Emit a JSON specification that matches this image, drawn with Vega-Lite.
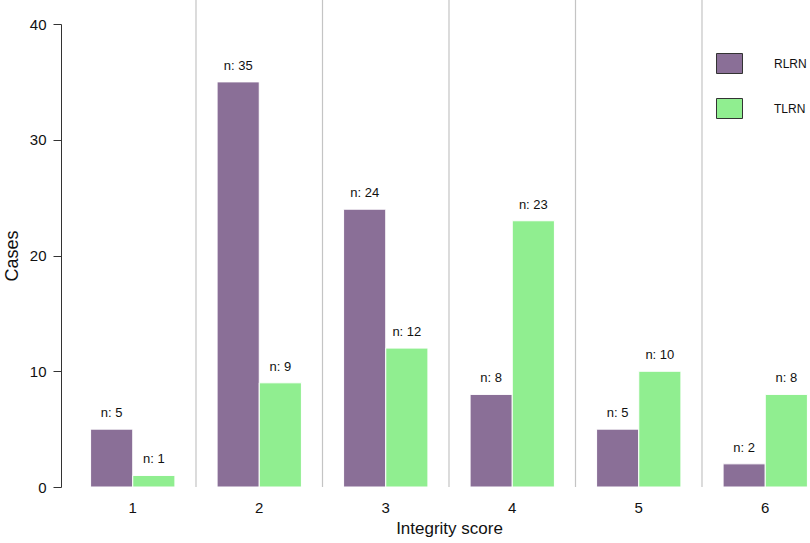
{
  "$schema": "https://vega.github.io/schema/vega-lite/v6.json",
  "width": 740.5,
  "height": 487,
  "autosize": {"type": "none"},
  "padding": {"left": 69.5, "top": 0, "right": 0, "bottom": 56},
  "background": "white",
  "config": {
    "view": {"stroke": null},
    "font": "Liberation Sans",
    "axisX": {
      "bandPosition": 0.5,
      "ticks": false,
      "domain": false,
      "grid": false,
      "labelAngle": 0,
      "labelFontSize": 15,
      "labelColor": "#111",
      "labelPadding": 13,
      "titleFontSize": 17,
      "titleFontWeight": "normal",
      "titleColor": "#111",
      "titlePadding": 5
    },
    "axisY": {
      "grid": false,
      "offset": 8.5,
      "domainColor": "#333",
      "tickColor": "#333",
      "tickSize": 8,
      "labelFontSize": 15,
      "labelColor": "#111",
      "labelPadding": 7,
      "titleFontSize": 18,
      "titleFontWeight": "normal",
      "titleColor": "#111",
      "titlePadding": 8
    }
  },
  "data": {
    "values": [
      {"score": 1, "group": "RLRN", "cases": 5},
      {"score": 1, "group": "TLRN", "cases": 1},
      {"score": 2, "group": "RLRN", "cases": 35},
      {"score": 2, "group": "TLRN", "cases": 9},
      {"score": 3, "group": "RLRN", "cases": 24},
      {"score": 3, "group": "TLRN", "cases": 12},
      {"score": 4, "group": "RLRN", "cases": 8},
      {"score": 4, "group": "TLRN", "cases": 23},
      {"score": 5, "group": "RLRN", "cases": 5},
      {"score": 5, "group": "TLRN", "cases": 10},
      {"score": 6, "group": "RLRN", "cases": 2},
      {"score": 6, "group": "TLRN", "cases": 8}
    ]
  },
  "transform": [{"calculate": "'n: ' + datum.cases", "as": "label"}],
  "layer": [
    {
      "transform": [{"filter": "datum.score > 1 && datum.group == 'RLRN'"}],
      "mark": {"type": "rule", "color": "#c4c4c4", "strokeWidth": 1.2},
      "encoding": {
        "x": {"field": "score", "type": "ordinal", "bandPosition": 0, "title": "Integrity score"}
      }
    },
    {
      "mark": {"type": "bar", "stroke": "white", "strokeWidth": 1},
      "encoding": {
        "x": {
          "field": "score",
          "type": "ordinal",
          "title": "Integrity score",
          "scale": {"range": [0, 759], "paddingInner": 0, "paddingOuter": 0}
        },
        "xOffset": {
          "field": "group",
          "type": "nominal",
          "scale": {"paddingOuter": 0.5, "paddingInner": 0}
        },
        "y": {
          "field": "cases",
          "type": "quantitative",
          "title": "Cases",
          "scale": {"domain": [0, 40], "range": [487, 24], "nice": false},
          "axis": {"values": [0, 10, 20, 30, 40]}
        },
        "color": {
          "field": "group",
          "type": "nominal",
          "scale": {"domain": ["RLRN", "TLRN"], "range": ["#8a6f97", "#90ee90"]},
          "legend": {
            "orient": "none",
            "legendX": 649.5,
            "legendY": 53,
            "title": null,
            "symbolType": "M-1.3,-1H1.3V1H-1.3Z",
            "symbolSize": 400,
            "symbolStrokeColor": "#333",
            "symbolStrokeWidth": 1,
            "symbolOpacity": 1,
            "labelFontSize": 12,
            "labelOffset": 34,
            "labelColor": "#111",
            "rowPadding": 20
          }
        }
      }
    },
    {
      "mark": {"type": "text", "baseline": "bottom", "dy": -9, "fontSize": 13, "color": "#111"},
      "encoding": {
        "x": {"field": "score", "type": "ordinal", "title": "Integrity score"},
        "xOffset": {"field": "group", "type": "nominal"},
        "y": {"field": "cases", "type": "quantitative", "title": "Cases", "axis": {"values": [0, 10, 20, 30, 40]}},
        "text": {"field": "label"}
      }
    }
  ]
}
